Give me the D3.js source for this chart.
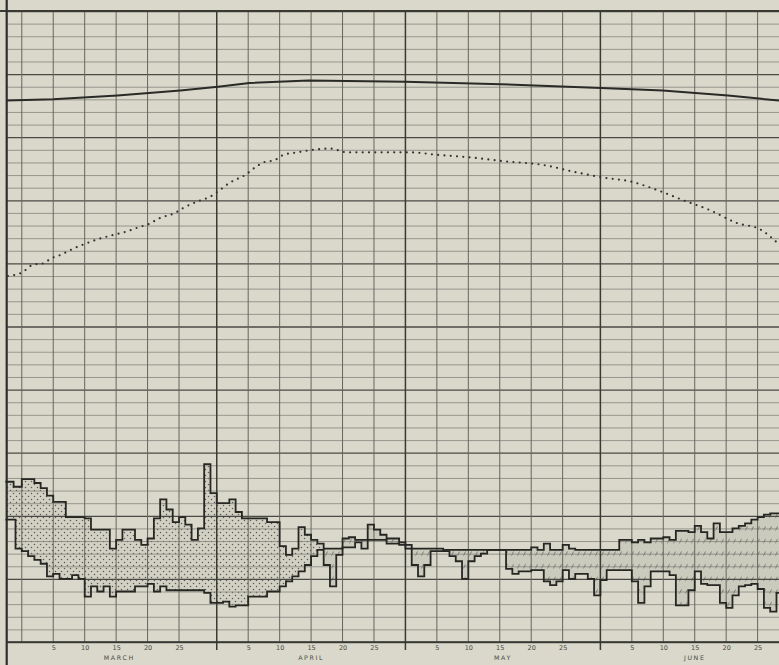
<!DOCTYPE html>
<html>
<head>
<meta charset="utf-8">
<script src="https://cdn.jsdelivr.net/npm/d3@7"></script>
<style>
html, body { margin: 0; padding: 0; background: #d9d8cb; }
svg { display: block; }
</style>
</head>
<body>
<div id="chart"></div>
<script>
// day = days counted from the start of March (5 = 5 March, 31 = start of April ...)
// values are in chart grid units (0 at the base line, 50 at the top border)

var months = ["MARCH", "APRIL", "MAY", "JUNE"];
var monthStart = [0, 31, 61, 92];
var monthLen = [31, 30, 31, 30];
var dayTicks = [5, 10, 15, 20, 25];

// solid curve
var solidDay = [-2.4, 5, 15.2, 25.2, 31.2, 36.2, 45.6, 61, 76.2, 92.1, 101.9, 112.3, 120.4];
var solidVal = [42.9, 43.0, 43.3, 43.7, 44.0, 44.3, 44.5, 44.4, 44.2, 43.9, 43.7, 43.3, 42.9];

// dotted curve
var dotDay = [-2.2, 0.1, 1.8, 3.4, 4.7, 6.3, 7.9, 9.8, 12.0, 14.1, 16.5, 18.8, 20.1, 22.0, 24.4, 25.7,
  27.9, 30.0, 31.2, 33.1, 35.5, 37.1, 38.4, 40.3, 41.6, 43.8, 46.3, 49.0, 51.7, 55.9, 61.8, 66.1,
  71.3, 76.6, 82.9, 88.3, 92.5, 96.7, 101.1, 105.2, 109.5, 113.7, 117.4, 120.4];
var dotVal = [29.0, 29.3, 29.9, 30.0, 30.4, 30.7, 31.1, 31.5, 31.9, 32.2, 32.5, 32.9, 33.1, 33.6, 34.0, 34.4,
  34.9, 35.3, 35.7, 36.4, 37.0, 37.6, 38.0, 38.2, 38.6, 38.8, 39.0, 39.1, 38.8, 38.8, 38.8, 38.6,
  38.4, 38.1, 37.8, 37.2, 36.8, 36.5, 35.8, 35.0, 34.2, 33.2, 32.7, 31.5];

// stepped band: upper edge (value holds from the day given until the next one)
var upperDay = [-2.6, -1.3, 0, 2, 3, 4, 5, 7, 10, 11, 14, 15, 16, 18, 19, 20, 21, 22, 23, 24, 25, 26, 27, 28,
  29, 30, 31, 33, 34, 35, 39, 41, 42, 43, 44, 45, 46, 47, 48, 51, 52, 53, 55, 56, 57, 58, 60, 61, 62,
  66, 67, 81, 82, 83, 84, 86, 87, 88, 95, 97, 98, 99, 100, 102, 103, 104, 106, 107, 108, 109, 110,
  111, 113, 114, 115, 116, 117, 118, 119, 121];
var upperVal = [12.7, 12.3, 12.9, 12.6, 12.2, 11.6, 11.1, 9.9, 9.8, 8.9, 7.4, 8.1, 8.9, 8.1, 7.7, 8.2, 9.8, 11.3, 10.5, 9.5, 9.9, 9.3, 8.1, 9.0,
  14.1, 11.8, 11.0, 11.3, 10.3, 9.8, 9.5, 7.6, 6.9, 7.4, 9.1, 8.5, 8.1, 7.8, 7.4, 8.2, 8.3, 8.1, 9.3, 8.9, 8.5, 8.2, 7.9, 7.7, 7.4,
  7.4, 7.3, 7.5, 7.3, 7.8, 7.3, 7.7, 7.4, 7.3, 8.1, 7.9, 8.1, 7.9, 8.2, 8.3, 8.1, 8.8, 8.7, 9.2, 8.7, 8.2, 9.4,
  8.7, 9.0, 9.2, 9.4, 9.7, 9.9, 10.1, 10.2, 10.2];

// stepped band: lower edge
var lowerDay = [-2.6, -1, 0, 1, 2, 3, 4, 5, 6, 8, 9, 10, 11, 12, 13, 14, 15, 18, 20, 21, 22, 23, 29, 30, 32,
  33, 34, 36, 39, 41, 42, 43, 44, 45, 46, 47, 48, 49, 50, 51, 53, 54, 55, 58, 60, 61, 62, 63, 64, 65,
  68, 69, 70, 71, 72, 73, 74, 77, 78, 79, 81, 83, 84, 85, 86, 87, 88, 90, 91, 92, 93, 97, 98, 99,
  100, 103, 104, 106, 107, 108, 109, 111, 112, 113, 114, 115, 116, 117, 118, 119, 120, 121];
var lowerVal = [9.7, 7.4, 7.2, 6.8, 6.5, 6.2, 5.2, 5.4, 5.0, 5.3, 5.0, 3.6, 4.4, 4.0, 4.4, 3.6, 4.0, 4.4, 4.6, 4.0, 4.4, 4.1, 3.9, 3.1, 3.2,
  2.8, 2.9, 3.6, 4.0, 4.4, 4.8, 5.2, 5.6, 6.1, 6.8, 7.3, 6.1, 4.4, 6.9, 7.5, 7.9, 7.4, 8.1, 7.8, 7.7, 7.4, 6.1, 5.2, 6.1, 7.2,
  6.8, 6.4, 5.0, 6.4, 6.8, 7.0, 7.3, 5.8, 5.4, 5.6, 5.7, 4.8, 4.5, 4.8, 5.7, 5.0, 5.4, 5.0, 3.7, 4.9, 5.7, 4.8, 3.1, 4.4,
  5.6, 5.3, 2.9, 4.1, 5.6, 4.6, 4.5, 3.1, 2.7, 3.7, 4.4, 4.5, 4.6, 4.2, 2.7, 2.4, 3.9, 3.9];

// the band is stippled up to this day and hatched after it
var stippleEnd = 47.5;

var W = 779, H = 665;
var x = d3.scaleLinear().domain([-2.4, 120.4]).range([6.7, 779]);
var y = d3.scaleLinear().domain([0, 50]).range([642, 11]);

var svg = d3.select("#chart").append("svg")
  .attr("width", W).attr("height", H);

svg.append("rect").attr("width", W).attr("height", H).attr("fill", "#d9d8cb");

var defs = svg.append("defs");
var dots = defs.append("pattern").attr("id", "dots")
  .attr("patternUnits", "userSpaceOnUse").attr("width", 6).attr("height", 6);
dots.append("rect").attr("width", 6).attr("height", 6).attr("fill", "#d1d0c3");
dots.append("circle").attr("cx", 1.5).attr("cy", 1.5).attr("r", 0.75).attr("fill", "#5a5a53");
dots.append("circle").attr("cx", 4.5).attr("cy", 4.5).attr("r", 0.75).attr("fill", "#5a5a53");

var rowH = y(0) - y(1);
var hatch = defs.append("pattern").attr("id", "hatch")
  .attr("patternUnits", "userSpaceOnUse").attr("width", 6).attr("height", rowH)
  .attr("y", y(50) - rowH / 2);
hatch.append("rect").attr("width", 6).attr("height", rowH).attr("fill", "#cacabd");
hatch.append("line").attr("x1", 1.5).attr("y1", rowH / 2 + 2).attr("x2", 3.5).attr("y2", rowH / 2 - 2)
  .attr("stroke", "#707068").attr("stroke-width", 0.9);

defs.append("clipPath").attr("id", "clipA").append("rect")
  .attr("x", 0).attr("y", 0).attr("width", x(stippleEnd)).attr("height", H);
defs.append("clipPath").attr("id", "clipB").append("rect")
  .attr("x", x(stippleEnd)).attr("y", 0).attr("width", W).attr("height", H);

// band fill between the two step edges
function stepAt(days, vals, t) {
  var i = d3.bisectRight(days, t) - 1;
  return vals[Math.max(i, 0)];
}
var bandDays = Array.from(new Set(upperDay.concat(lowerDay))).sort(function (a, b) { return a - b; });
var band = bandDays.map(function (t) {
  return { t: t, hi: stepAt(upperDay, upperVal, t), lo: stepAt(lowerDay, lowerVal, t) };
});
var area = d3.area().curve(d3.curveStepAfter)
  .x(function (d) { return x(d.t); })
  .y0(function (d) { return y(d.lo); })
  .y1(function (d) { return y(d.hi); });

svg.append("path").datum(band).attr("d", area).attr("fill", "url(#dots)").attr("clip-path", "url(#clipA)");
svg.append("path").datum(band).attr("d", area).attr("fill", "url(#hatch)").attr("clip-path", "url(#clipB)");

// horizontal grid
var hGrid = svg.append("g").attr("transform", "translate(" + x(-2.4) + ",0)")
  .call(d3.axisLeft(y).tickValues(d3.range(0, 51)).tickSize(-W).tickFormat(""));
hGrid.select(".domain").remove();
hGrid.selectAll(".tick line")
  .attr("stroke", function (d) { return d % 5 === 0 ? "#4a4a44" : "#85857c"; })
  .attr("stroke-width", function (d) { return d % 5 === 0 ? 1.3 : 0.8; });

// vertical grid every five days, heavier at month boundaries
var gridDays = [];
monthStart.forEach(function (s) {
  [0].concat(dayTicks).forEach(function (d) { gridDays.push({ t: s + d, edge: d === 0 && s > 0 }); });
});
svg.append("g").selectAll("line").data(gridDays).join("line")
  .attr("x1", function (d) { return x(d.t); }).attr("x2", function (d) { return x(d.t); })
  .attr("y1", y(50)).attr("y2", function (d) { return d.edge ? y(0) + 8 : y(0); })
  .attr("stroke", function (d) { return d.edge ? "#3a3a35" : "#66665e"; })
  .attr("stroke-width", function (d) { return d.edge ? 1.5 : 1; });

// borders
svg.append("line").attr("x1", 0).attr("x2", W).attr("y1", y(50)).attr("y2", y(50))
  .attr("stroke", "#3a3a35").attr("stroke-width", 1.8);
svg.append("line").attr("x1", x(-2.4)).attr("x2", W).attr("y1", y(0)).attr("y2", y(0))
  .attr("stroke", "#33332f").attr("stroke-width", 1.6);
svg.append("line").attr("x1", x(-2.4)).attr("x2", x(-2.4)).attr("y1", 0).attr("y2", H)
  .attr("stroke", "#2f2f2b").attr("stroke-width", 2.2);

// step edges
var stepLine = d3.line().curve(d3.curveStepAfter)
  .x(function (d) { return x(d[0]); }).y(function (d) { return y(d[1]); });
svg.append("path").datum(d3.zip(upperDay, upperVal)).attr("d", stepLine)
  .attr("fill", "none").attr("stroke", "#262623").attr("stroke-width", 1.8);
svg.append("path").datum(d3.zip(lowerDay, lowerVal)).attr("d", stepLine)
  .attr("fill", "none").attr("stroke", "#262623").attr("stroke-width", 1.8);

// solid and dotted curves
var curveLine = d3.line()
  .x(function (d) { return x(d[0]); }).y(function (d) { return y(d[1]); });
svg.append("path").datum(d3.zip(solidDay, solidVal)).attr("d", curveLine)
  .attr("fill", "none").attr("stroke", "#2a2a27").attr("stroke-width", 2);
svg.append("path").datum(d3.zip(dotDay, dotVal)).attr("d", curveLine.curve(d3.curveMonotoneX))
  .attr("fill", "none").attr("stroke", "#33332f").attr("stroke-width", 2.2)
  .attr("stroke-linecap", "round").attr("stroke-dasharray", "0 6.3");

// day labels
var tickDays = [], tickText = {};
monthStart.forEach(function (s) {
  dayTicks.forEach(function (d) { tickDays.push(s + d); tickText[s + d] = d; });
});
var xAxis = svg.append("g").attr("transform", "translate(0," + y(0) + ")")
  .attr("opacity", 0.99)
  .call(d3.axisBottom(x).tickValues(tickDays).tickSize(0).tickPadding(3)
    .tickFormat(function (t) { return tickText[t]; }));
xAxis.select(".domain").remove();
xAxis.selectAll("text").attr("font-family", "DejaVu Sans, sans-serif")
  .attr("font-size", 6.5).attr("fill", "#4a4a44");

// month names
svg.append("g").attr("opacity", 0.99).selectAll("text").data(months).join("text")
  .attr("x", function (d, i) { return x(monthStart[i] + monthLen[i] / 2); })
  .attr("y", y(0) + 17.5)
  .attr("text-anchor", "middle")
  .attr("font-family", "DejaVu Sans, sans-serif")
  .attr("font-size", 6.3).attr("letter-spacing", 1.6)
  .attr("fill", "#4a4a44")
  .text(function (d) { return d; });
</script>
</body>
</html>
